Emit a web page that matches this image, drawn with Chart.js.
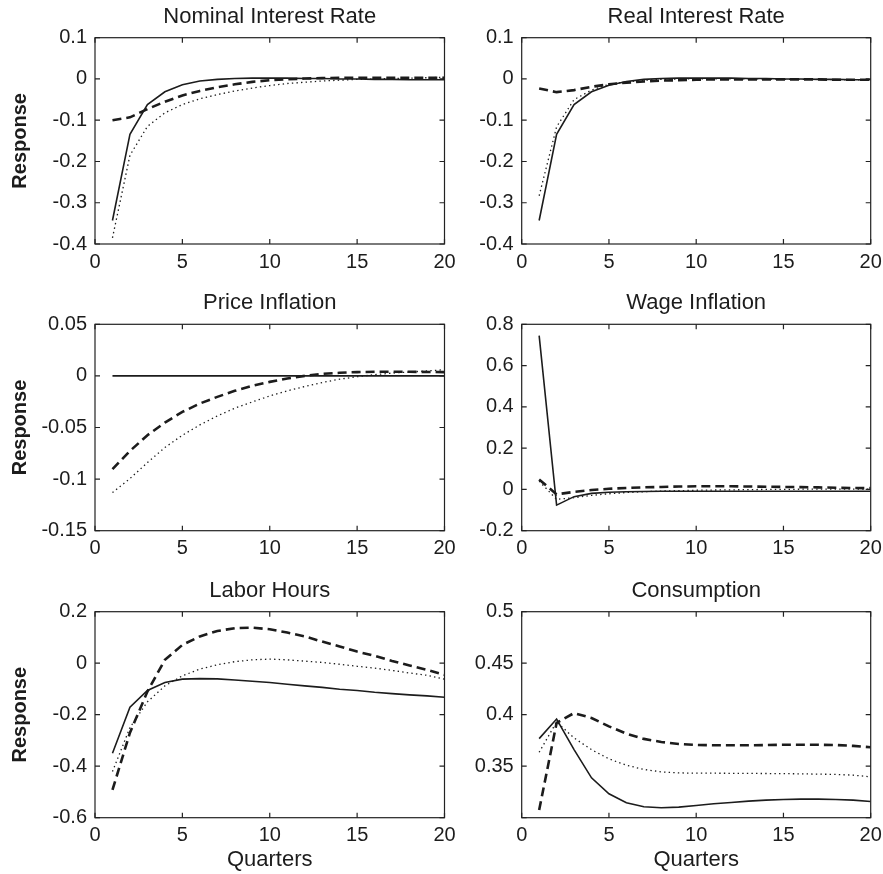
<!DOCTYPE html>
<html>
<head>
<meta charset="utf-8">
<script src="https://cdn.jsdelivr.net/npm/chart.js@4.4.1/dist/chart.umd.min.js"></script>
<style>
    body { margin: 0; background: #fff; }
    #wrap { position: relative; width: 883px; height: 874px; overflow: hidden; }
    #wrap canvas { position: absolute; }
</style>
</head>
<body>
<div id="wrap"></div>
<script>
const quarters = [1, 2, 3, 4, 5, 6, 7, 8, 9, 10, 11, 12, 13, 14, 15, 16, 17, 18, 19, 20];

const nominalSolid = [-0.343, -0.134, -0.062, -0.031, -0.014, -0.005, -0.001, 0.001, 0.002, 0.002, 0.002, 0.001, 0.001, 0.000, 0.000, -0.001, -0.001, -0.002, -0.002, -0.002];
const nominalDashed = [-0.100, -0.093, -0.073, -0.055, -0.040, -0.029, -0.020, -0.013, -0.007, -0.003, -0.001, 0.001, 0.002, 0.003, 0.003, 0.003, 0.003, 0.003, 0.003, 0.003];
const nominalDotted = [-0.385, -0.185, -0.115, -0.082, -0.062, -0.048, -0.038, -0.029, -0.022, -0.016, -0.011, -0.008, -0.005, -0.003, -0.001, 0.000, 0.001, 0.002, 0.003, 0.004];

const realSolid = [-0.343, -0.134, -0.062, -0.031, -0.015, -0.006, -0.001, 0.001, 0.002, 0.002, 0.002, 0.002, 0.001, 0.001, 0.000, 0.000, -0.001, -0.001, -0.002, -0.002];
const realDashed = [-0.023, -0.032, -0.027, -0.019, -0.013, -0.009, -0.006, -0.004, -0.003, -0.002, -0.001, -0.001, -0.001, -0.001, -0.001, -0.001, -0.001, -0.002, -0.002, -0.002];
const realDotted = [-0.283, -0.116, -0.050, -0.027, -0.013, -0.007, -0.003, -0.001, 0.000, 0.000, 0.000, 0.000, 0.000, 0.000, -0.001, -0.001, -0.001, -0.002, -0.002, -0.002];

const priceSolid = [0, 0, 0, 0, 0, 0, 0, 0, 0, 0, 0, 0, 0, 0, 0, 0, 0, 0, 0, 0];
const priceDashed = [-0.0904, -0.0727, -0.0575, -0.0452, -0.0349, -0.0268, -0.0203, -0.0145, -0.0097, -0.0058, -0.0025, 0.0000, 0.0020, 0.0030, 0.0037, 0.0040, 0.0040, 0.0040, 0.0038, 0.0037];
const priceDotted = [-0.1130, -0.0995, -0.0840, -0.0694, -0.0575, -0.0475, -0.0388, -0.0313, -0.0252, -0.0194, -0.0145, -0.0103, -0.0064, -0.0032, -0.0008, 0.0012, 0.0027, 0.0038, 0.0048, 0.0060];

const wageSolid = [0.745, -0.076, -0.035, -0.019, -0.014, -0.011, -0.010, -0.009, -0.009, -0.009, -0.009, -0.009, -0.009, -0.009, -0.009, -0.009, -0.009, -0.009, -0.009, -0.009];
const wageDashed = [0.048, -0.024, -0.012, -0.003, 0.003, 0.007, 0.010, 0.012, 0.014, 0.015, 0.015, 0.015, 0.014, 0.013, 0.012, 0.011, 0.010, 0.008, 0.007, 0.006];
const wageDotted = [0.040, -0.048, -0.040, -0.029, -0.021, -0.015, -0.011, -0.008, -0.006, -0.004, -0.003, -0.002, -0.001, 0.000, 0.000, 0.001, 0.001, 0.001, 0.001, 0.001];

const laborSolid = [-0.350, -0.171, -0.106, -0.075, -0.062, -0.060, -0.061, -0.065, -0.070, -0.075, -0.082, -0.088, -0.094, -0.101, -0.106, -0.113, -0.118, -0.123, -0.127, -0.132];
const laborDashed = [-0.492, -0.270, -0.110, 0.013, 0.071, 0.104, 0.125, 0.136, 0.138, 0.132, 0.119, 0.104, 0.084, 0.065, 0.045, 0.029, 0.009, -0.009, -0.026, -0.045];
const laborDotted = [-0.421, -0.250, -0.150, -0.088, -0.049, -0.023, -0.006, 0.006, 0.013, 0.016, 0.013, 0.008, 0.003, -0.004, -0.012, -0.019, -0.028, -0.038, -0.047, -0.062];

const consSolid = [0.3768, 0.3958, 0.3661, 0.3387, 0.3232, 0.3145, 0.3106, 0.3097, 0.3103, 0.3119, 0.3135, 0.3148, 0.3161, 0.3171, 0.3177, 0.3180, 0.3180, 0.3177, 0.3171, 0.3158];
const consDashed = [0.3074, 0.3920, 0.4016, 0.3968, 0.3887, 0.3816, 0.3765, 0.3735, 0.3716, 0.3706, 0.3703, 0.3703, 0.3703, 0.3705, 0.3708, 0.3708, 0.3708, 0.3706, 0.3697, 0.3684];
const consDotted = [0.3635, 0.3930, 0.3774, 0.3661, 0.3571, 0.3510, 0.3468, 0.3445, 0.3435, 0.3432, 0.3432, 0.3431, 0.3430, 0.3429, 0.3428, 0.3426, 0.3423, 0.3420, 0.3413, 0.3397];

const panels = [
    { title: "Nominal Interest Rate", row: 0, col: 0, min: -0.4, max: 0.1, step: 0.1, series: [nominalSolid, nominalDashed, nominalDotted] },
    { title: "Real Interest Rate", row: 0, col: 1, min: -0.4, max: 0.1, step: 0.1, series: [realSolid, realDashed, realDotted] },
    { title: "Price Inflation", row: 1, col: 0, min: -0.15, max: 0.05, step: 0.05, series: [priceSolid, priceDashed, priceDotted] },
    { title: "Wage Inflation", row: 1, col: 1, min: -0.2, max: 0.8, step: 0.2, series: [wageSolid, wageDashed, wageDotted] },
    { title: "Labor Hours", row: 2, col: 0, min: -0.6, max: 0.2, step: 0.2, series: [laborSolid, laborDashed, laborDotted] },
    { title: "Consumption", row: 2, col: 1, min: 0.3, max: 0.5, step: 0.05, series: [consSolid, consDashed, consDotted], hideMin: true }
];

// plot box edges in page pixels
const colLeft = [95, 521.7];
const colRight = [444.5, 870.7];
const rowTop = [37.7, 324.3, 611.7];
const rowBottom = [244, 530.7, 817.7];
const canvasLeft = [0, 456];
const canvasWidth = [456, 427];

const ink = "#1c1c1c";
const lineStyles = [
    { borderWidth: 1.6, borderDash: [] },
    { borderWidth: 2.6, borderDash: [9, 5] },
    { borderWidth: 1.3, borderDash: [1.4, 3.2] }
];

Chart.defaults.font.family = '"Liberation Sans", Arial, sans-serif';
Chart.defaults.color = ink;

// box round the plot with inward ticks on all four sides
const frameTicks = {
    id: "frameTicks",
    afterDatasetsDraw(chart) {
        const { ctx, chartArea: a, scales } = chart;
        const len = 5;
        ctx.save();
        ctx.strokeStyle = "#222";
        ctx.lineWidth = 1.2;
        ctx.beginPath();
        scales.x.ticks.forEach(t => {
            const px = scales.x.getPixelForValue(t.value);
            ctx.moveTo(px, a.bottom); ctx.lineTo(px, a.bottom - len);
            ctx.moveTo(px, a.top); ctx.lineTo(px, a.top + len);
        });
        scales.y.ticks.forEach(t => {
            const py = scales.y.getPixelForValue(t.value);
            ctx.moveTo(a.left, py); ctx.lineTo(a.left + len, py);
            ctx.moveTo(a.right, py); ctx.lineTo(a.right - len, py);
        });
        ctx.stroke();
        ctx.strokeRect(a.left, a.top, a.right - a.left, a.bottom - a.top);
        ctx.restore();
    }
};

// plain matlab-like labels: 0.1, -0.15, 0.5
function tickText(value) {
    const v = +value.toFixed(4);
    return String(v === 0 ? 0 : v);
}

function makePanel(p) {
    const titleH = 22 * 1.2 + 8;
    const xH = p.row === 2 ? 56 : 32;
    const top = Math.floor(rowTop[p.row] - titleH - 1);
    const padTop = rowTop[p.row] - titleH - top;
    const height = Math.ceil(padTop + titleH + (rowBottom[p.row] - rowTop[p.row]) + xH);
    const left = canvasLeft[p.col];
    const width = canvasWidth[p.col];
    const yW = colLeft[p.col] - left;
    const padRight = left + width - colRight[p.col];
    const padBottom = height - (padTop + titleH + (rowBottom[p.row] - rowTop[p.row]) + xH);

    const canvas = document.createElement("canvas");
    canvas.width = width;
    canvas.height = height;
    canvas.style.left = left + "px";
    canvas.style.top = top + "px";
    canvas.style.width = width + "px";
    canvas.style.height = height + "px";
    document.getElementById("wrap").appendChild(canvas);

    const datasets = p.series.map((vals, i) => ({
        data: quarters.map((q, k) => ({ x: q, y: vals[k] })),
        borderColor: ink,
        borderWidth: lineStyles[i].borderWidth,
        borderDash: lineStyles[i].borderDash,
        pointRadius: 0,
        tension: 0,
        fill: false
    }));

    new Chart(canvas.getContext("2d"), {
        type: "line",
        data: { datasets: datasets },
        plugins: [frameTicks],
        options: {
            responsive: false,
            animation: false,
            devicePixelRatio: 1,
            layout: { padding: { top: padTop, right: padRight, bottom: padBottom, left: 0 } },
            plugins: {
                legend: { display: false },
                tooltip: { enabled: false },
                title: {
                    display: true,
                    fullSize: false,
                    text: p.title,
                    color: ink,
                    font: { size: 22, weight: "normal" },
                    padding: { top: 0, bottom: 8 }
                }
            },
            scales: {
                x: {
                    type: "linear",
                    min: 0,
                    max: 20,
                    grid: { display: false, drawTicks: false },
                    border: { display: false },
                    ticks: { stepSize: 5, padding: 6, maxRotation: 0, font: { size: 20 }, color: ink, callback: tickText },
                    title: {
                        display: p.row === 2,
                        text: "Quarters",
                        color: ink,
                        font: { size: 22 },
                        padding: { top: 0, bottom: 1 }
                    },
                    afterFit: scale => {
                        scale.height = xH;
                        scale.paddingLeft = 0;
                        scale.paddingRight = 0;
                    }
                },
                y: {
                    min: p.min,
                    max: p.max,
                    grid: { display: false, drawTicks: false },
                    border: { display: false },
                    ticks: {
                        stepSize: p.step,
                        padding: 8,
                        font: { size: 20 },
                        color: ink,
                        callback: value => (p.hideMin && Math.abs(value - p.min) < 1e-9) ? "" : tickText(value)
                    },
                    title: {
                        display: p.col === 0,
                        text: "Response",
                        color: ink,
                        font: { size: 20, weight: "bold" },
                        padding: { top: 8.5, bottom: 0 }
                    },
                    afterFit: scale => { scale.width = yW; }
                }
            }
        }
    });
}

panels.forEach(makePanel);
</script>
</body>
</html>
